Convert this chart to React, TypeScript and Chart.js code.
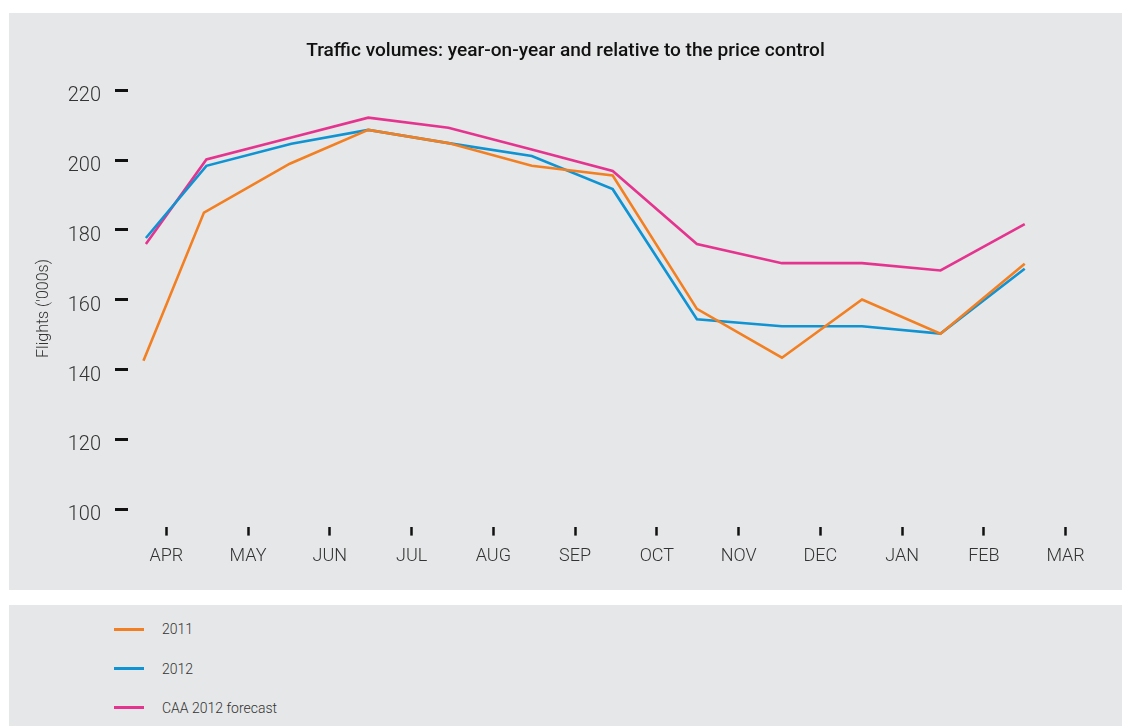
import React, { useEffect, useRef } from "react";
import { Chart, registerables } from "chart.js";

Chart.register(...registerables);

// ---- data ----
const MONTHS = ["APR", "MAY", "JUN", "JUL", "AUG", "SEP", "OCT", "NOV", "DEC", "JAN", "FEB", "MAR"];
// x position of each data point in month units (0 = APR tick)
const POINT_POS = [-0.25, 0.49, 1.53, 2.47, 3.45, 4.47, 5.46, 6.49, 7.53, 8.51, 9.47, 10.5];
const POINT_POS_2011 = [-0.28, 0.46, 1.51, 2.47, 3.45, 4.47, 5.46, 6.49, 7.53, 8.51, 9.47, 10.5];
const SERIES_2011 = [142.5, 185.0, 199.0, 208.7, 204.9, 198.4, 195.6, 157.4, 143.4, 160.1, 150.3, 170.3];
const SERIES_2012 = [177.7, 198.4, 204.7, 208.7, 204.9, 201.2, 191.7, 154.4, 152.4, 152.4, 150.3, 168.9];
const SERIES_CAA = [176.0, 200.2, 206.5, 212.2, 209.3, 203.1, 196.9, 176.0, 170.5, 170.5, 168.4, 181.7];
const Y_TICKS = [100, 120, 140, 160, 180, 200, 220];
const LABELS = ["2011", "2012", "CAA 2012 forecast"];
const COLORS = ["#f28023", "#0f93d2", "#e5348f"];

const TITLE = "Traffic volumes: year-on-year and relative to the price control";
const Y_TITLE = "Flights ('000s)";

const BG = "#e6e7e8";
const FONT = "Roboto, 'Open Sans', sans-serif";

function toPoints(xs: number[], ys: number[]) {
  return ys.map((y, i) => ({ x: xs[i], y }));
}

export default function App() {
  const canvasRef = useRef<HTMLCanvasElement | null>(null);

  useEffect(() => {
    document.body.style.margin = "0";
    document.body.style.overflow = "hidden";
    const canvas = canvasRef.current;
    if (!canvas) return;
    const seriesData = [
      toPoints(POINT_POS_2011, SERIES_2011),
      toPoints(POINT_POS, SERIES_2012),
      toPoints(POINT_POS, SERIES_CAA),
    ];
    const chart = new Chart(canvas, {
      type: "line",
      data: {
        datasets: LABELS.map((label, i) => ({
          label,
          data: seriesData[i],
          borderColor: COLORS[i],
          backgroundColor: COLORS[i],
          borderWidth: 2.6,
          pointRadius: 0,
          tension: 0,
          fill: false,
        })),
      },
      options: {
        animation: false,
        responsive: false,
        maintainAspectRatio: false,
        layout: { padding: { top: 0, left: 0, right: 0, bottom: 12 } },
        plugins: {
          legend: { display: false },
          tooltip: { enabled: false },
          title: {
            display: true,
            text: TITLE,
            color: "#111",
            font: { family: FONT, size: 19.1, weight: "500", lineHeight: 1.2 },
            padding: { top: 27, bottom: 27.5 },
          },
        },
        scales: {
          x: {
            type: "linear",
            min: -0.469,
            max: 11.69,
            afterBuildTicks: (scale: any) => {
              scale.ticks = MONTHS.map((_, i) => ({ value: i }));
            },
            grid: {
              drawOnChartArea: false,
              drawTicks: true,
              tickLength: 9,
              tickWidth: 2.5,
              color: "#111",
            },
            border: { display: false },
            ticks: {
              autoSkip: false,
              maxRotation: 0,
              padding: 10.4,
              color: "#333",
              font: { family: FONT, size: 18, weight: "300", lineHeight: 1.2 },
              callback: (v: any) => MONTHS[Math.round(Number(v))] ?? "",
            },
          },
          y: {
            type: "linear",
            min: 95,
            max: 220,
            afterBuildTicks: (scale: any) => {
              scale.ticks = Y_TICKS.map((v) => ({ value: v }));
            },
            afterFit: (scale: any) => {
              scale.width = 119;
            },
            grid: {
              drawOnChartArea: false,
              drawTicks: true,
              tickLength: 13,
              tickWidth: 3,
              color: "#111",
            },
            border: { display: false },
            title: {
              display: true,
              text: Y_TITLE,
              color: "#333",
              font: { family: FONT, size: 16, weight: "300", lineHeight: 1.2 },
              padding: { top: 25.4, bottom: 0 },
            },
            ticks: {
              padding: 14,
              labelOffset: 6,
              color: "#333",
              font: { family: FONT, size: 20, weight: "300", lineHeight: 1.2 },
            },
          },
        },
      },
    } as any);
    return () => chart.destroy();
  }, []);

  return (
    <div style={{ position: "relative", width: 1122, height: 726, overflow: "hidden", background: "#fff" }}>
      <div style={{ position: "absolute", left: 9, top: 13, width: 1113, height: 577, background: BG }}>
        <canvas ref={canvasRef} width={1113} height={577} style={{ display: "block", width: 1113, height: 577 }} />
      </div>
      <div style={{ position: "absolute", left: 9, top: 605, width: 1113, height: 121, background: BG }}>
        {LABELS.map((label, i) => (
          <div
            key={label}
            style={{
              position: "absolute",
              left: 105,
              top: 24.3 + i * 39.2 - 10,
              height: 20,
              display: "flex",
              alignItems: "center",
              fontFamily: FONT,
              fontWeight: 300,
              fontSize: 14,
              color: "#333",
              whiteSpace: "nowrap",
            }}
          >
            <span style={{ display: "inline-block", width: 30, height: 2.5, background: COLORS[i], marginRight: 18 }} />
            <span>{label}</span>
          </div>
        ))}
      </div>
    </div>
  );
}
